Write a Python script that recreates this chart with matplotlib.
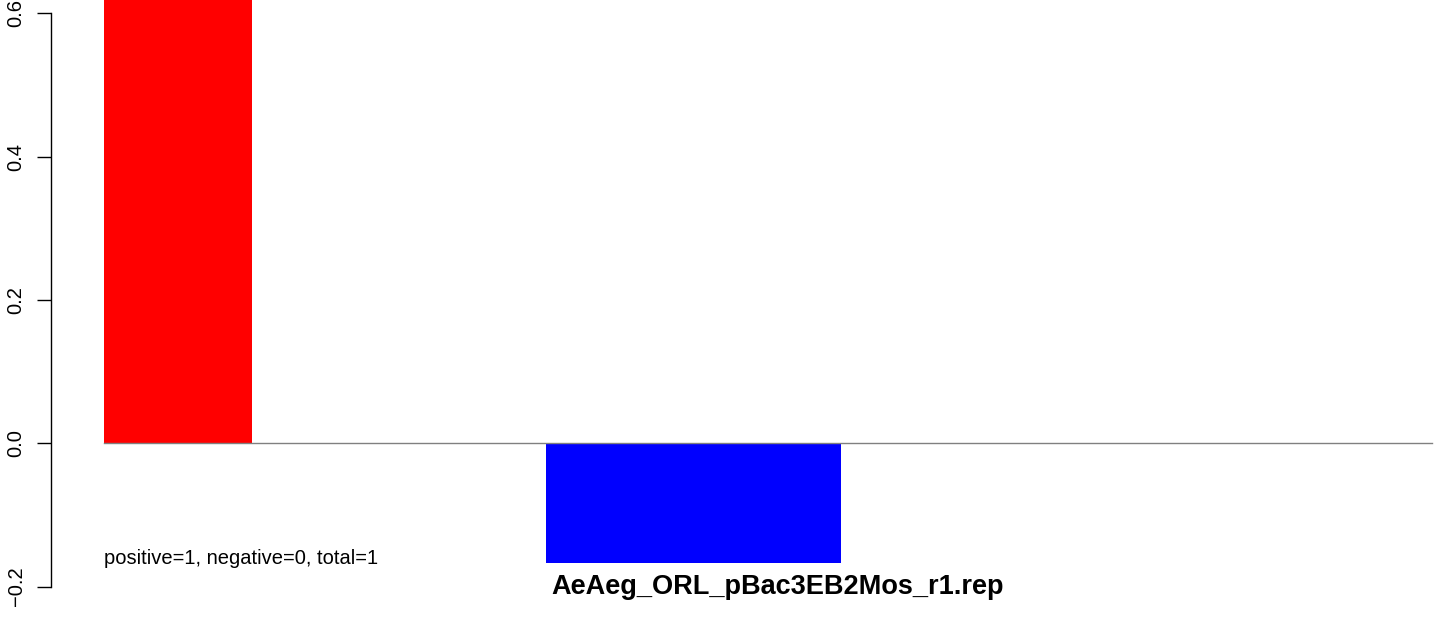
import numpy as np
import matplotlib
matplotlib.use("Agg")
import matplotlib.pyplot as plt

plt.rcParams['font.family'] = ['Liberation Sans', 'DejaVu Sans']

# bar data: left edge, width, value, colour
bar_left = [0.0, 2.99]
bar_width = [1.0, 2.0]
bar_value = [1.0, -0.167]
bar_color = ["#FF0000", "#0000FF"]

yticks = [-0.2, 0.0, 0.2, 0.4, 0.6]
ytick_labels = ["\u22120.2", "0.0", "0.2", "0.4", "0.6"]

note = "positive=1, negative=0, total=1"
title = "AeAeg_ORL_pBac3EB2Mos_r1.rep"

W, H = 1455, 620
fig = plt.figure(figsize=(W / 100, H / 100), dpi=100)

# plot region in pixels (left, top, right, bottom)
px_left, px_right = 50.7, 1440
px_top, px_bottom = 0, 600
ax = fig.add_axes([px_left / W, 1 - px_bottom / H,
                   (px_right - px_left) / W, (px_bottom - px_top) / H])

# map pixel coordinates to data: ~148 px per x unit, x=0 at px 104
x_scale = 147.7
x0_px = 104.0
ax.set_xlim((px_left - x0_px) / x_scale, (px_right - x0_px) / x_scale)
y_scale = 716.7  # px per unit
y0_px = 443.3
ax.set_ylim((y0_px - px_bottom) / y_scale, (y0_px - px_top) / y_scale)

ax.bar(bar_left, bar_value, width=bar_width, align="edge",
       color=bar_color, edgecolor="none", zorder=2)
ax.plot([0, 8.99], [0, 0], color="#808080", lw=1.0, zorder=3)

for side in ["top", "right", "bottom"]:
    ax.spines[side].set_visible(False)
ax.spines["left"].set_bounds(-0.2, 0.6)
ax.spines["left"].set_linewidth(1.0)
ax.set_xticks([])
ax.set_yticks(yticks)
ax.set_yticklabels(ytick_labels, rotation=90, va="center", fontsize=14.5)
ax.tick_params(axis="y", length=10, width=1.0, pad=8)

ax.text(0, -0.168, note, fontsize=14.5, ha="left", va="baseline")
ax.text(4.56, -0.21, title, fontsize=19.5, fontweight="bold",
        ha="center", va="baseline")

fig.savefig("out.png", dpi=100)
